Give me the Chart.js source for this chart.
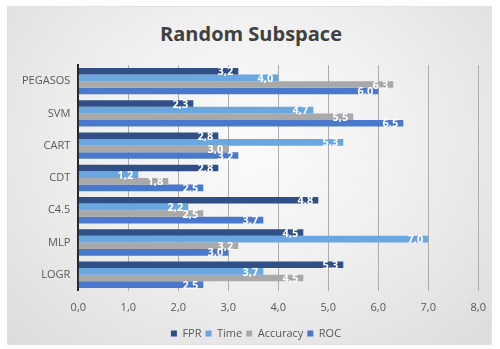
<!DOCTYPE html>
<html>
<head>
<meta charset="utf-8">
<script src="https://cdn.jsdelivr.net/npm/chart.js@4"></script>
<style>
  html, body { margin: 0; padding: 0; background: #fff; }
  #frame {
    position: absolute; left: 7px; top: 6px; width: 485px; height: 339px;
    background: radial-gradient(ellipse at 50% 40%, #fbfbfb 0%, #f0f0f0 45%, #dcdcdc 100%);
    box-sizing: border-box; border: 1px solid #e2e2e2;
  }
  #titulo {
    position: absolute; left: 7px; top: 20px; width: 488px; text-align: center;
    font: bold 20px 'Open Sans', sans-serif; color: #404040; line-height: 28px;
  }
  #area {
    position: absolute; left: 8px; top: 7px; width: 488px; height: 342px;
  }
</style>
</head>
<body>
<div id="frame"></div>
<div id="titulo">Random Subspace</div>
<div id="area"><canvas id="grafico"></canvas></div>
<script>
const categorias = ['PEGASOS', 'SVM', 'CART', 'CDT', 'C4.5', 'MLP', 'LOGR'];
const fpr      = [3.2, 2.3, 2.8, 2.8, 4.8, 4.5, 5.3];
const tempo    = [4.0, 4.7, 5.3, 1.2, 2.2, 7.0, 3.7];
const acuracia = [6.3, 5.5, 3.0, 1.8, 2.5, 3.2, 4.5];
const roc      = [6.0, 6.5, 3.2, 2.5, 3.7, 3.0, 2.5];
const tickLabels = ['0,0', '1,0', '2,0', '3,0', '4,0', '5,0', '6,0', '7,0', '8,0'];

const fonte = "'Open Sans', sans-serif";

// escreve o valor de cada barra dentro da ponta, em branco
const rotulosBarras = {
  id: 'rotulosBarras',
  afterDatasetsDraw(chart) {
    const ctx = chart.ctx;
    ctx.save();
    ctx.font = 'bold 11px ' + fonte;
    ctx.fillStyle = '#ffffff';
    ctx.textAlign = 'right';
    ctx.textBaseline = 'middle';
    chart.data.datasets.forEach((ds, i) => {
      chart.getDatasetMeta(i).data.forEach((bar, j) => {
        const txt = ds.data[j].toFixed(1).replace('.', ',');
        ctx.fillText(txt, bar.x - 5, bar.y + 1);
      });
    });
    ctx.restore();
  }
};

const ctx = document.getElementById('grafico').getContext('2d');

new Chart(ctx, {
  type: 'bar',
  data: {
    labels: categorias,
    datasets: [
      { label: 'FPR', data: fpr, backgroundColor: '#2f4f86' },
      { label: 'Time', data: tempo, backgroundColor: '#6aa6e0' },
      { label: 'Accuracy', data: acuracia, backgroundColor: '#a9a9a9' },
      { label: 'ROC', data: roc, backgroundColor: '#4a78cc' }
    ]
  },
  options: {
    indexAxis: 'y',
    responsive: true,
    maintainAspectRatio: false,
    animation: false,
    layout: { padding: { left: 6, right: -2, top: 58, bottom: 0 } },
    datasets: {
      bar: { categoryPercentage: 0.82, barPercentage: 1.0 }
    },
    scales: {
      x: {
        min: 0,
        max: 8,
        ticks: {
          stepSize: 1,
          color: '#595959',
          font: { family: fonte, size: 11 },
          padding: 10,
          callback: (v, i) => tickLabels[i]
        },
        grid: { color: '#adadad', lineWidth: 1, drawTicks: false },
        border: { display: false }
      },
      y: {
        ticks: {
          color: '#595959',
          font: { family: fonte, size: 11 },
          padding: 8
        },
        grid: { display: false, drawTicks: false },
        border: { color: '#262626', width: 2 }
      }
    },
    plugins: {
      title: { display: false },
      legend: {
        position: 'bottom',
        labels: {
          boxWidth: 6,
          boxHeight: 6,
          color: '#595959',
          font: { family: fonte, size: 11 },
          padding: 4
        }
      },
      tooltip: { enabled: false }
    }
  },
  plugins: [rotulosBarras]
});
</script>
</body>
</html>
